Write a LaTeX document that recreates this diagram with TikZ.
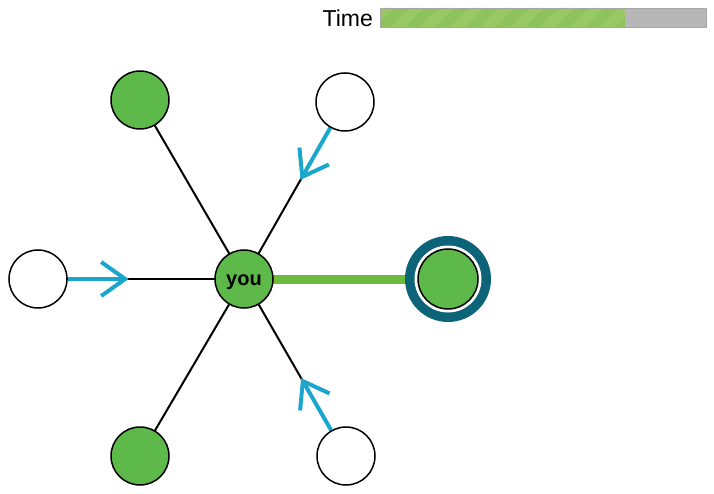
\documentclass[tikz,border=0pt]{standalone}
\usepackage{fontspec}
\setmainfont{Liberation Sans}
\usetikzlibrary{arrows.meta,calc}
\definecolor{nodegreen}{HTML}{5CB94A}
\definecolor{linkgreen}{HTML}{6CBB3C}
\definecolor{teal}{HTML}{0D6479}
\definecolor{arrowblue}{HTML}{1BA7CD}
\definecolor{barstripe}{HTML}{A2CE6C}
\definecolor{bargreen}{HTML}{8DC35A}
\definecolor{bargray}{HTML}{B7B7B7}
\tikzset{
  person/.style={circle, draw=black, line width=1.5pt, minimum size=58pt, inner sep=0pt},
  friend/.style={person, fill=nodegreen},
  stranger/.style={person, fill=white},
  tie/.style={draw=black, line width=2pt},
  flow/.style={draw=arrowblue, line width=4pt, -{Straight Barb[length=24pt,width=34pt,line width=4pt]}},
}
\begin{document}
\begin{tikzpicture}[x=1pt,y=-1pt]
\useasboundingbox (0,0) rectangle (714,494);
% time bar
\node[font=\fontsize{23}{27}\selectfont, anchor=east, inner sep=0pt] (timelbl) at (373,18) {Time};
\fill[bargray] (380,8) rectangle (706,27);
\fill[bargreen] (380,8) rectangle (625,27);
\begin{scope}
  \clip (380,8) rectangle (625,27);
  \foreach \i in {0,...,9} {
    \fill[barstripe, opacity=0.6] ({360+30*\i},27) -- ({375+30*\i},27) -- ({394+30*\i},8) -- ({379+30*\i},8) -- cycle;
  }
\end{scope}
\draw[black!35, line width=0.6pt] (380,8) rectangle (706,27);
% node positions
\coordinate (pyou) at (244,279);
\coordinate (ptl) at (140,100);
\coordinate (ptr) at (345,102);
\coordinate (pl) at (38,279);
\coordinate (pr) at (448,279);
\coordinate (pbl) at (140,456);
\coordinate (pbr) at (346,456);
% ties
\draw[tie] (pyou) -- (ptl);
\draw[tie] (pyou) -- (ptr);
\draw[tie] (pyou) -- (pl);
\draw[tie] (pyou) -- (pbl);
\draw[tie] (pyou) -- (pbr);
\draw[linkgreen, line width=9pt] (pyou) -- (pr);
% blue flow tips
\coordinate (ttr) at ($(ptr)!0.44!(pyou)$);
\coordinate (tl) at ($(pl)!0.44!(pyou)$);
\coordinate (tbr) at ($(pbr)!0.44!(pyou)$);
% nodes
\node[friend] (you) at (pyou) {};
\node[font=\bfseries\fontsize{20}{24}\selectfont, inner sep=0pt] (youlbl) at ([yshift=-3pt]pyou) {you};
\node[friend] (tlnode) at (ptl) {};
\node[friend] (blnode) at (pbl) {};
\node[stranger] (trnode) at (ptr) {};
\node[stranger] (lnode) at (pl) {};
\node[stranger] (brnode) at (pbr) {};
\node[circle, fill=teal, minimum size=86pt, inner sep=0pt] (ring) at (pr) {};
\node[circle, fill=white, minimum size=67pt, inner sep=0pt] (gap) at (pr) {};
\node[friend, minimum size=60pt] (rnode) at (pr) {};
\draw[flow] (trnode) -- (ttr);
\draw[flow] (lnode) -- (tl);
\draw[flow] (brnode) -- (tbr);
\end{tikzpicture}
\end{document}
